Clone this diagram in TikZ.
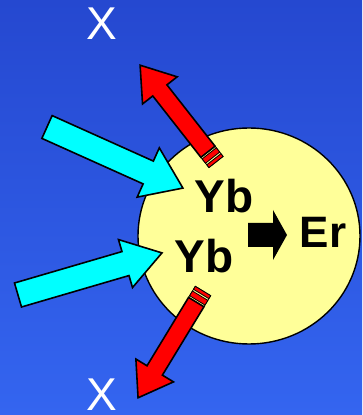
\documentclass[tikz,border=0pt]{standalone}
\usepackage{fontspec}
\setmainfont{Liberation Sans}
\usepackage{xcolor}
\definecolor{bgtop}{HTML}{2548D0}
\definecolor{bgbottom}{HTML}{3465F0}
\definecolor{pump}{HTML}{00FFFF}
\definecolor{loss}{HTML}{FF0000}
\definecolor{grain}{HTML}{FFFF99}
\definecolor{ink}{HTML}{000000}
\usepackage{tikz}
\usetikzlibrary{calc}

\begin{document}
\begin{tikzpicture}[
  x=1pt, y=1pt,
  ion/.style={font=\fontsize{46}{50}\selectfont\bfseries, text=ink, anchor=base, inner sep=0pt},
  lost/.style={font=\fontsize{46}{50}\selectfont, text=white, anchor=base, inner sep=0pt},
  pumparrow/.style={fill=pump, draw=ink, line width=1.6pt, line join=miter},
  lossarrow/.style={fill=loss, draw=ink, line width=1.6pt, line join=miter},
  stripe/.style={fill=loss, draw=ink, line width=0.8pt},
  crystal/.style={fill=grain, draw=ink, line width=1.4pt}
]

% Background
\shade[top color=bgtop, bottom color=bgbottom] (0,0) rectangle (362,415);
\useasboundingbox (0,0) rectangle (362,415);

% Particle
\draw[crystal] (249,179) ellipse (111 and 108);

% Pump light coming in (upper)
\begin{scope}[shift={(47,288)}, rotate=-24.2]
  \draw[pumparrow] (0,-12.5) -- (111,-12.5) -- (111,-27) -- (149,0)
    -- (111,27) -- (111,12.5) -- (0,12.5) -- cycle;
\end{scope}

% Pump light coming in (lower)
\begin{scope}[shift={(18,120)}, rotate=16.3]
  \draw[pumparrow] (0,-12.5) -- (112,-12.5) -- (112,-25) -- (150,0)
    -- (112,25) -- (112,12.5) -- (0,12.5) -- cycle;
\end{scope}

% Loss leaving (upper)
\begin{scope}[shift={(216,253)}, rotate=128.1]
  \draw[fill=grain, draw=ink, line width=0.8pt] (0,-9) rectangle (13,9);
  \draw[stripe] (0,-9) rectangle (3.5,9);
  \draw[stripe] (5.5,-9) rectangle (11,9);
  \draw[lossarrow] (13,-9) -- (91,-9) -- (91,-22) -- (123,0)
    -- (91,22) -- (91,9) -- (13,9) -- cycle;
\end{scope}

% Loss leaving (lower)
\begin{scope}[shift={(203,124)}, rotate=-121.3]
  \draw[fill=grain, draw=ink, line width=0.8pt] (0,-9) rectangle (13,9);
  \draw[stripe] (0,-9) rectangle (3.5,9);
  \draw[stripe] (5.5,-9) rectangle (11,9);
  \draw[lossarrow] (13,-9) -- (93,-9) -- (93,-22) -- (125,0)
    -- (93,22) -- (93,9) -- (13,9) -- cycle;
\end{scope}

% Ions
\node[ion] (ybtop) at (224,202) {Yb};
\node[ion] (ybbot) at (204,142) {Yb};
\node[ion, font=\fontsize{44}{48}\selectfont\bfseries] (er) at (323,167) {Er};

% Transfer
\fill[ink] (248,168) -- (273,168) -- (273,155) -- (287,180)
  -- (273,205) -- (273,192) -- (248,192) -- cycle;

% Lost photons
\node[lost] (xtop) at (102,375) {X};
\node[lost] (xbot) at (102,4.5) {X};

\end{tikzpicture}
\end{document}
